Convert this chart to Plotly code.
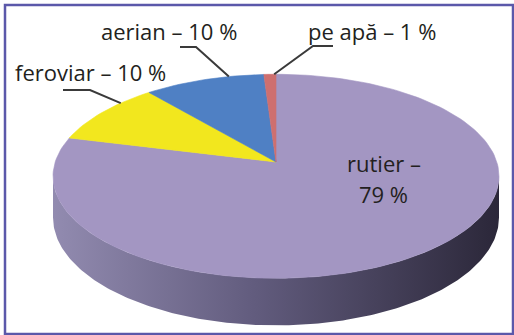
import numpy as np
import plotly.graph_objects as go

# Transport modes and their shares (%)
categories = ["rutier", "feroviar", "aerian", "pe apă"]
shares = [79, 10, 10, 1]
top_colors = ["#a396c2", "#f2e71e", "#4f80c4", "#ce6f6f"]
side_colors = [[0.0, "#928bb0"], [0.45, "#625c7e"], [1.0, "#2b2739"]]

W, H = 514, 335
FONT = "Open Sans"
FONT_SIZE = 22
TEXT_COLOR = "#231f20"

# Tilted disc projection (with a little perspective on the far side)
CX, CY = 276.0, 162.0
RX, RY = 220.8, 100.0
PERSP = 0.14
DEPTH = 40.5


def project(phi, drop=0.0):
    """Angle measured clockwise from 12 o'clock -> screen point on the rim."""
    X = np.sin(phi)
    Z = -np.cos(phi)
    d = 1.0 - PERSP * Z
    return CX + RX * X / d, CY + (RY * Z + drop) / d


fig = go.Figure()

# Side wall of the disc (front half only)
phi_l = np.arccos(-PERSP)
phi_r = 2 * np.pi - phi_l
arc = np.linspace(phi_l, phi_r, 200)
tx, ty = project(arc)
bx, by = project(arc[::-1], DEPTH)
fig.add_trace(go.Scatter(
    x=np.concatenate([tx, bx]), y=np.concatenate([ty, by]),
    mode="lines", fill="toself", line=dict(width=0),
    fillgradient=dict(type="horizontal", colorscale=side_colors),
    hoverinfo="skip", showlegend=False,
))

# Top face wedges, starting at 12 o'clock and running clockwise
total = float(sum(shares))
bounds = np.concatenate([[0.0], np.cumsum(shares)]) / total * 2 * np.pi
for name, val, col, a0, a1 in zip(categories, shares, top_colors, bounds[:-1], bounds[1:]):
    n = max(4, int(200 * (a1 - a0) / (2 * np.pi)) + 2)
    ang = np.linspace(a0, a1, n)
    ax_, ay_ = project(ang)
    fig.add_trace(go.Scatter(
        x=np.concatenate([[CX], ax_, [CX]]), y=np.concatenate([[CY], ay_, [CY]]),
        mode="lines", fill="toself", fillcolor=col, line=dict(width=0.6, color=col),
        name=name, hoverinfo="skip", showlegend=False,
    ))

# Outside labels with leader lines: (text position, elbow, fraction along the wedge rim)
outside = {
    "feroviar": dict(tx=13, ty=72, elbow=[(63, 90), (90, 90)], frac=0.71),
    "aerian": dict(tx=99, ty=31, elbow=[(180, 47), (196, 47)], frac=0.71),
    "pe apă": dict(tx=306, ty=31, elbow=[(333, 46), (313, 46)], frac=0.85),
}
annotations = []
for i, (name, val) in enumerate(zip(categories, shares)):
    label = f"{name} – {val} %"
    if name in outside:
        spec = outside[name]
        phi = bounds[i] + spec["frac"] * (bounds[i + 1] - bounds[i])
        ex, ey = project(phi)
        lx = [p[0] for p in spec["elbow"]] + [ex]
        ly = [p[1] for p in spec["elbow"]] + [ey]
        fig.add_trace(go.Scatter(x=lx, y=ly, mode="lines",
                                 line=dict(color="#3a3a3a", width=2),
                                 hoverinfo="skip", showlegend=False))
        annotations.append(dict(x=spec["tx"], y=spec["ty"], text=label,
                                xanchor="left", yanchor="middle", showarrow=False,
                                font=dict(family=FONT, size=FONT_SIZE, color=TEXT_COLOR)))
    else:
        annotations.append(dict(x=384, y=163, text=f"{name} –", xanchor="center",
                                yanchor="middle", showarrow=False,
                                font=dict(family=FONT, size=FONT_SIZE, color=TEXT_COLOR)))
        annotations.append(dict(x=383, y=194, text=f"{val} %", xanchor="center",
                                yanchor="middle", showarrow=False,
                                font=dict(family=FONT, size=FONT_SIZE, color=TEXT_COLOR)))

fig.update_layout(
    width=W, height=H,
    margin=dict(l=0, r=0, t=0, b=0),
    paper_bgcolor="white", plot_bgcolor="white",
    xaxis=dict(range=[0, W], visible=False, fixedrange=True),
    yaxis=dict(range=[H, 0], visible=False, fixedrange=True),
    annotations=annotations,
    shapes=[dict(type="rect", xref="x", yref="y", x0=5, y0=5, x1=513, y1=334,
                 line=dict(color="#5b58aa", width=2.5), layer="above")],
)

fig.write_html("out.html")
